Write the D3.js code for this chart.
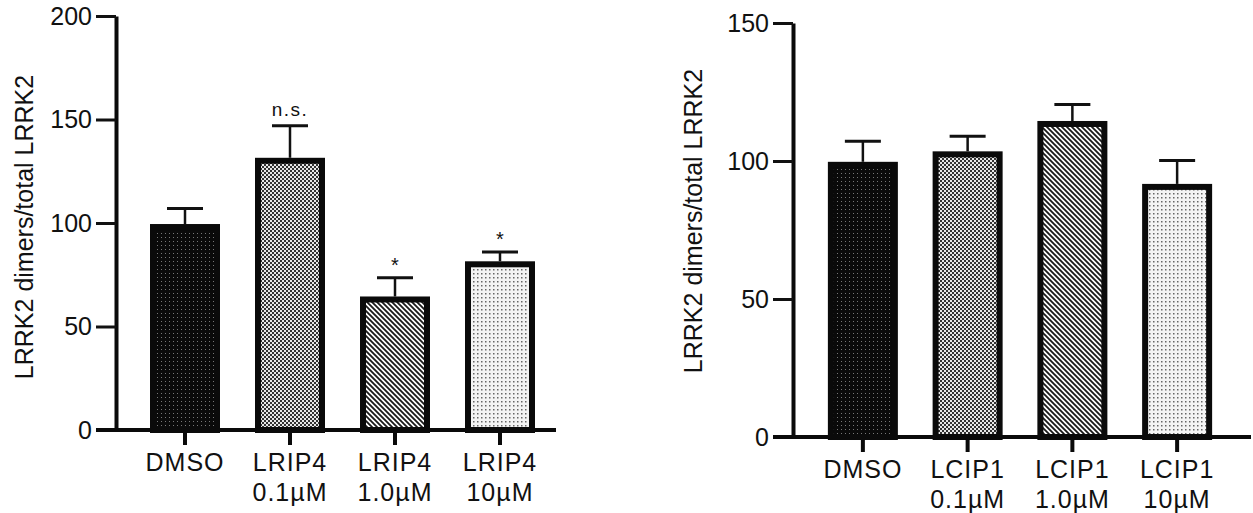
<!DOCTYPE html>
<html>
<head>
<meta charset="utf-8">
<script src="https://cdn.jsdelivr.net/npm/d3@7"></script>
<style>
  html, body { margin: 0; padding: 0; background: #fff; }
  svg { display: block; }
  text { font-family: "Liberation Sans", Arial, Helvetica, sans-serif; fill: #111; }
</style>
</head>
<body>
<script>
// ---------- data ----------
const leftCategories = ["DMSO", "LRIP4 0.1µM", "LRIP4 1.0µM", "LRIP4 10µM"];
const leftLabels = [["DMSO"], ["LRIP4", "0.1µM"], ["LRIP4", "1.0µM"], ["LRIP4", "10µM"]];
const leftValues = [99.5, 131.5, 64.5, 81.5];
const leftErrors = [7.5, 15.5, 9, 4.5];
const leftSignif = ["", "n.s.", "*", "*"];
const leftTicks = [0, 50, 100, 150, 200];

const rightCategories = ["DMSO", "LCIP1 0.1µM", "LCIP1 1.0µM", "LCIP1 10µM"];
const rightLabels = [["DMSO"], ["LCIP1", "0.1µM"], ["LCIP1", "1.0µM"], ["LCIP1", "10µM"]];
const rightValues = [99.7, 103.5, 114.5, 91.7];
const rightErrors = [7.5, 5.5, 6, 8.5];
const rightSignif = ["", "", "", ""];
const rightTicks = [0, 50, 100, 150];

const yTitle = "LRRK2 dimers/total LRRK2";
const fills = ["url(#pDark)", "url(#pCheck)", "url(#pDiag)", "url(#pLight)"];

// ---------- svg ----------
const W = 1253, H = 513;
const svg = d3.select("body").append("svg").attr("width", W).attr("height", H);
const defs = svg.append("defs");

// dark dotted
const p1 = defs.append("pattern").attr("id", "pDark").attr("patternUnits", "userSpaceOnUse").attr("width", 4).attr("height", 4);
p1.append("rect").attr("width", 4).attr("height", 4).attr("fill", "#0a0a0a");
p1.append("rect").attr("x", 1).attr("y", 1).attr("width", 1).attr("height", 1).attr("fill", "#777");
// checker mid gray
const p2 = defs.append("pattern").attr("id", "pCheck").attr("patternUnits", "userSpaceOnUse").attr("width", 4).attr("height", 4);
p2.append("rect").attr("width", 4).attr("height", 4).attr("fill", "#e8e8e8");
p2.append("rect").attr("x", 0).attr("y", 0).attr("width", 2).attr("height", 2).attr("fill", "#333");
p2.append("rect").attr("x", 2).attr("y", 2).attr("width", 2).attr("height", 2).attr("fill", "#333");
// diagonal hatch
const p3 = defs.append("pattern").attr("id", "pDiag").attr("patternUnits", "userSpaceOnUse").attr("width", 5).attr("height", 5);
p3.append("rect").attr("width", 5).attr("height", 5).attr("fill", "#fff");
p3.append("path").attr("d", "M-1,-1 L6,6 M-1,4 L1,6 M4,-1 L6,1").attr("stroke", "#1a1a1a").attr("stroke-width", 1.8);
// light dotted
const p4 = defs.append("pattern").attr("id", "pLight").attr("patternUnits", "userSpaceOnUse").attr("width", 4).attr("height", 4);
p4.append("rect").attr("width", 4).attr("height", 4).attr("fill", "#f4f4f4");
p4.append("rect").attr("x", 1).attr("y", 1).attr("width", 1.5).attr("height", 1.5).attr("fill", "#666");

function panel(opts) {
  const { cats, labels, values, errors, signif, ticks, yDomainMax, yRange, xRange, axisX, axisEnd, titlePos } = opts;
  const g = svg.append("g");
  const y = d3.scaleLinear().domain([0, yDomainMax]).range(yRange);
  const x = d3.scaleBand().domain(cats).range(xRange).padding(0);
  const y0 = y(0);
  const bw = 70, sw = 6;

  // bars
  g.selectAll("rect.bar").data(values).join("rect")
    .attr("class", "bar")
    .attr("x", (d, i) => x(cats[i]) + x.bandwidth() / 2 - bw / 2 + sw / 2)
    .attr("width", bw - sw)
    .attr("y", d => y(d) + sw / 2)
    .attr("height", d => y0 - y(d) - sw / 2)
    .attr("fill", (d, i) => fills[i])
    .attr("stroke", "#0a0a0a")
    .attr("stroke-width", sw);

  // error bars
  values.forEach((v, i) => {
    const cx = x(cats[i]) + x.bandwidth() / 2;
    g.append("line").attr("x1", cx).attr("x2", cx).attr("y1", y(v)).attr("y2", y(v + errors[i]))
      .attr("stroke", "#111").attr("stroke-width", 2.5);
    g.append("line").attr("x1", cx - 18).attr("x2", cx + 18).attr("y1", y(v + errors[i])).attr("y2", y(v + errors[i]))
      .attr("stroke", "#111").attr("stroke-width", 3);
    if (signif[i]) {
      g.append("text").attr("x", cx).attr("y", y(v + errors[i]) - (signif[i] === "*" ? 6 : 10))
        .attr("text-anchor", "middle")
        .attr("font-size", signif[i] === "*" ? 20 : 19)
        .attr("letter-spacing", signif[i] === "*" ? 0 : 1.5)
        .attr("fill", "#333")
        .text(signif[i]);
    }
  });

  // y axis
  const ya = g.append("g").attr("transform", `translate(${axisX},0)`)
    .call(d3.axisLeft(y).tickValues(ticks).tickSize(20).tickSizeOuter(0).tickPadding(4));
  ya.select(".domain").attr("stroke", "#0a0a0a").attr("stroke-width", 4);
  ya.selectAll(".tick line").attr("stroke", "#111").attr("stroke-width", 3);
  ya.selectAll(".tick text").attr("font-size", 25).attr("fill", "#333")
    .attr("font-family", "Liberation Sans, Arial, sans-serif");

  // x axis
  const xa = g.append("g").attr("transform", `translate(0,${y0})`)
    .call(d3.axisBottom(x).tickSize(15).tickSizeOuter(0).tickFormat(""));
  xa.select(".domain").remove();
  xa.selectAll(".tick line").attr("stroke", "#0a0a0a").attr("stroke-width", 4);
  g.append("line").attr("x1", axisX - 20).attr("x2", axisEnd).attr("y1", y0).attr("y2", y0)
    .attr("stroke", "#0a0a0a").attr("stroke-width", 4);

  // x labels
  labels.forEach((lines, i) => {
    const cx = x(cats[i]) + x.bandwidth() / 2;
    const t = g.append("text").attr("text-anchor", "middle").attr("font-size", 25)
      .attr("letter-spacing", 1).attr("fill", "#333");
    lines.forEach((ln, k) => {
      t.append("tspan").attr("x", cx).attr("y", y0 + 41 + k * 30).text(ln);
    });
  });

  // y title
  g.append("text")
    .attr("transform", `translate(${titlePos[0]},${titlePos[1]}) rotate(-90)`)
    .attr("text-anchor", "middle").attr("font-size", 25).attr("fill", "#333")
    .text(yTitle);
}

panel({
  cats: leftCategories, labels: leftLabels, values: leftValues, errors: leftErrors, signif: leftSignif,
  ticks: leftTicks, yDomainMax: 200, yRange: [430, 16], xRange: [132.5, 552.5],
  axisX: 116, axisEnd: 556, titlePos: [33, 227]
});
panel({
  cats: rightCategories, labels: rightLabels, values: rightValues, errors: rightErrors, signif: rightSignif,
  ticks: rightTicks, yDomainMax: 150, yRange: [437, 23], xRange: [810.5, 1229.5],
  axisX: 793, axisEnd: 1251, titlePos: [702, 221]
});
</script>
</body>
</html>
